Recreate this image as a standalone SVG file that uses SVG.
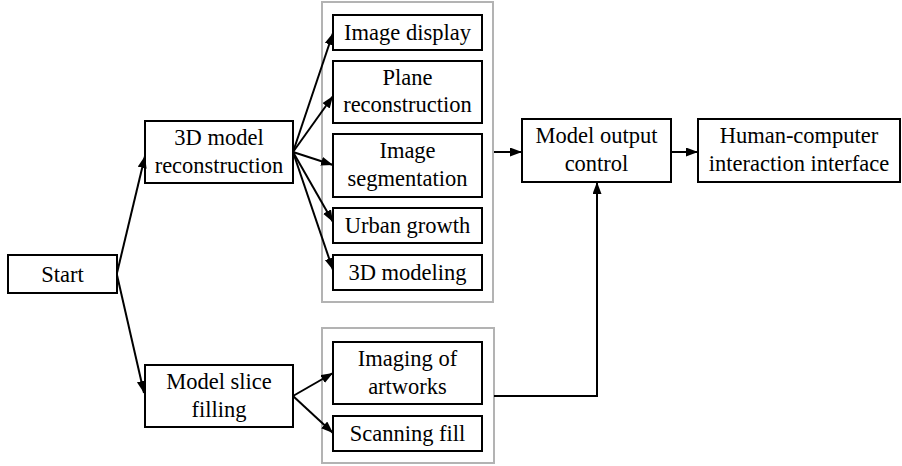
<svg xmlns="http://www.w3.org/2000/svg" width="902" height="466" viewBox="0 0 902 466">
<defs>
<marker id="ah" markerUnits="userSpaceOnUse" markerWidth="13" markerHeight="10" refX="12" refY="4.5" orient="auto">
<path d="M0,0 L12,4.5 L0,9 z" fill="#000"/>
</marker>
</defs>
<style>
.box{fill:#fff;stroke:#000;stroke-width:2}
.grp{fill:none;stroke:#b3b3b3;stroke-width:2}
text{font-family:'Liberation Serif','Times New Roman',Times,serif;font-size:22.5px;fill:#000;text-anchor:middle}
.ca{fill:none;stroke:#000;stroke-width:2;marker-end:url(#ah)}
</style>
<rect width="902" height="466" fill="#fff"/>
<g id="container-top"><rect class="grp" x="322" y="2" width="171" height="300"/></g>
<g id="container-bottom"><rect class="grp" x="322" y="328" width="172" height="135"/></g>

<g id="start"><rect class="box" x="8" y="255" width="109" height="38"/><text x="62.5" y="282">Start</text></g>
<g id="recon3d"><rect class="box" x="145" y="121" width="148" height="62"/><text x="219" y="145">3D model</text><text x="219" y="173">reconstruction</text></g>
<g id="slice"><rect class="box" x="145" y="365" width="148" height="62"/><text x="219" y="389">Model slice</text><text x="219" y="417">filling</text></g>

<g id="imgdisplay"><rect class="box" x="333" y="15" width="149" height="35"/><text x="407.5" y="40">Image display</text></g>
<g id="plane"><rect class="box" x="333" y="61" width="149" height="62"/><text x="407.5" y="85">Plane</text><text x="407.5" y="112">reconstruction</text></g>
<g id="segment"><rect class="box" x="333" y="134" width="149" height="63"/><text x="407.5" y="158">Image</text><text x="407.5" y="186">segmentation</text></g>
<g id="urban"><rect class="box" x="333" y="208" width="149" height="35"/><text x="407.5" y="233">Urban growth</text></g>
<g id="modeling"><rect class="box" x="333" y="255" width="149" height="35"/><text x="407.5" y="280">3D modeling</text></g>

<g id="artworks"><rect class="box" x="333" y="342" width="149" height="62"/><text x="407.5" y="366">Imaging of</text><text x="407.5" y="394">artworks</text></g>
<g id="scanfill"><rect class="box" x="333" y="416" width="149" height="35"/><text x="407.5" y="441">Scanning fill</text></g>

<g id="output"><rect class="box" x="522" y="119" width="149" height="63"/><text x="596.5" y="143">Model output</text><text x="596.5" y="171">control</text></g>
<g id="hci"><rect class="box" x="698" y="119" width="202" height="63"/><text x="799" y="143">Human-computer</text><text x="799" y="171">interaction interface</text></g>

<g id="connectors">
<path class="ca" d="M117,273 L145,156"/>
<path class="ca" d="M117,275 L144,393"/>
<path class="ca" d="M293,152 L333,33"/>
<path class="ca" d="M293,152 L333,96"/>
<path class="ca" d="M293,152 L333,165"/>
<path class="ca" d="M293,152 L333,222"/>
<path class="ca" d="M293,152 L333,270"/>
<path class="ca" d="M293,396 L333,373"/>
<path class="ca" d="M293,396 L333,433"/>
<path class="ca" d="M494,152 L522,152"/>
<path class="ca" d="M671,152 L698,152"/>
<path class="ca" d="M494,396 L597,396 L597,182"/>
</g>
</svg>
